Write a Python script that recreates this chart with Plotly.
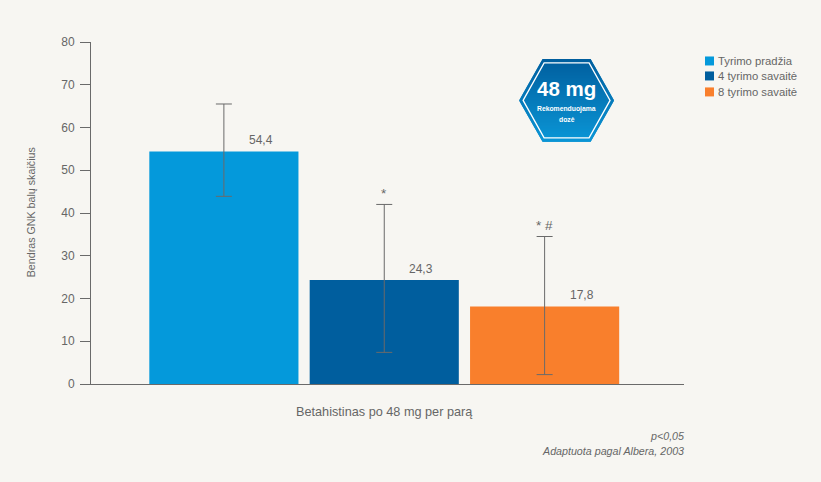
import plotly.graph_objects as go

# ---- data ----
series_names = ["Tyrimo pradžia", "4 tyrimo savaitė", "8 tyrimo savaitė"]
bar_values = [54.4, 24.3, 18.1]
value_labels = ["54,4", "24,3", "17,8"]
err_upper = [65.5, 42.0, 34.5]
err_lower = [43.9, 7.4, 2.2]
sig_labels = ["", "*", "* #"]
colors = ["#0499db", "#005e9e", "#f97f2c"]
y_ticks = [0, 10, 20, 30, 40, 50, 60, 70, 80]

W, H = 821, 482
L, R, T, B = 90.5, 684.0, 42.0, 384.5
BG = "#f7f6f2"
TXT = "#666666"
AXIS = "#6a6a6a"
FONT = "Liberation Sans, Arial, sans-serif"

fig = go.Figure()
for i, name in enumerate(series_names):
    fig.add_trace(go.Bar(
        x=[i], y=[bar_values[i]], name=name, width=0.93, showlegend=False,
        marker=dict(color=colors[i], line=dict(width=0)),
        error_y=dict(type="data", symmetric=False,
                     array=[err_upper[i] - bar_values[i]],
                     arrayminus=[bar_values[i] - err_lower[i]],
                     color=AXIS, thickness=1, width=8),
    ))

annotations = []
for i in range(3):
    annotations.append(dict(x=i + 0.23, y=bar_values[i] + 2.7, text=value_labels[i],
                            showarrow=False, xanchor="center", yanchor="middle",
                            font=dict(size=12, color=TXT, family=FONT)))
    if sig_labels[i]:
        annotations.append(dict(x=i, y=err_upper[i] + 2.5, text=sig_labels[i],
                                showarrow=False, xanchor="center", yanchor="middle",
                                font=dict(size=13.5, color=TXT, family=FONT)))


def px(x):
    return (x - L) / (R - L)


def py(y):
    return (B - y) / (B - T)


def paper_text(x, y, text, xanchor="center", **kw):
    font = kw.pop("font")
    annotations.append(dict(xref="paper", yref="paper", x=px(x), y=py(y), text=text,
                            showarrow=False, xanchor=xanchor, yanchor="middle",
                            font=font, **kw))


paper_text(30, 213, "Bendras GNK balų skaičius", textangle=-90,
           font=dict(size=10.7, color=TXT, family=FONT))
paper_text(384.5, 413, "Betahistinas po 48 mg per parą",
           font=dict(size=12.7, color=TXT, family=FONT))
paper_text(684, 437, "<i>p&lt;0,05</i>", xanchor="right", xshift=2,
           font=dict(size=10.7, color=TXT, family=FONT))
paper_text(684, 452, "<i>Adaptuota pagal Albera, 2003</i>", xanchor="right", xshift=2,
           font=dict(size=10.7, color=TXT, family=FONT))

shapes = []

# ---- legend: small swatches set tight against their labels ----
legend_rows = [61, 76, 92]
for name, col, ly in zip(series_names, colors, legend_rows):
    shapes.append(dict(type="rect", xref="paper", yref="paper",
                       x0=px(705), x1=px(714), y0=py(ly - 4.5), y1=py(ly + 4.5),
                       fillcolor=col, line=dict(width=0)))
    paper_text(716.5, ly, name, xanchor="left", font=dict(size=11.3, color=TXT, family=FONT))

# ---- dosage badge (decoration, in pixel coordinates) ----
CX, CY = 566.5, 100.5


def hex_path(half_w, half_top, half_h):
    pts = [(CX - half_w, CY), (CX - half_top, CY - half_h), (CX + half_top, CY - half_h),
           (CX + half_w, CY), (CX + half_top, CY + half_h), (CX - half_top, CY + half_h)]
    return "M" + " L".join(f"{px(a):.5f},{py(b):.5f}" for a, b in pts) + " Z"


half_w, half_top, half_h = 47.5, 24.0, 41.5
shapes.append(dict(type="path", xref="paper", yref="paper",
                   path=hex_path(half_w, half_top, half_h),
                   fillcolor="#0a86c9", line=dict(width=0)))
c_top, c_bot = (0, 94, 158), (11, 150, 214)
n = 83
for k in range(n):
    y0 = -half_h + 2 * half_h * k / n
    y1 = min(half_h, -half_h + 2 * half_h * (k + 1) / n + 0.4)
    wid = lambda yy: half_w - (half_w - half_top) * min(abs(yy), half_h) / half_h
    t = k / (n - 1)
    col = tuple(round(a + (b - a) * t) for a, b in zip(c_top, c_bot))
    pts = [(CX - wid(y0), CY + y0), (CX + wid(y0), CY + y0),
           (CX + wid(y1), CY + y1), (CX - wid(y1), CY + y1)]
    shapes.append(dict(type="path", xref="paper", yref="paper",
                       path="M" + " L".join(f"{px(a):.5f},{py(b):.5f}" for a, b in pts) + " Z",
                       fillcolor=f"rgb{col}", line=dict(width=0)))
shapes.append(dict(type="path", xref="paper", yref="paper", path=hex_path(43.5, 22.5, 37.5),
                   fillcolor="rgba(0,0,0,0)", line=dict(color="#ffffff", width=1.3)))

paper_text(CX, 88.5, "<b>48 mg</b>", font=dict(size=20.5, color="#ffffff", family=FONT))
paper_text(CX, 109, "<b>Rekomenduojama</b>", font=dict(size=6.8, color="#ffffff", family=FONT))
paper_text(CX, 120, "<b>dozė</b>", font=dict(size=6.8, color="#ffffff", family=FONT))

fig.update_layout(
    width=W, height=H,
    margin=dict(l=L, r=W - R, t=T, b=H - B, pad=0),
    paper_bgcolor=BG, plot_bgcolor=BG,
    font=dict(family=FONT, size=12, color=TXT),
    showlegend=False,
    xaxis=dict(range=[(L - 223.5) / 160.5, (R - 223.5) / 160.5], showticklabels=False,
               ticks="", showgrid=False, zeroline=False, showline=True,
               linecolor=AXIS, linewidth=1),
    yaxis=dict(range=[0, 80], tickmode="array", tickvals=y_ticks, ticks="outside",
               ticklen=10, tickwidth=1, tickcolor=AXIS, showgrid=False, zeroline=False,
               showline=True, linecolor=AXIS, linewidth=1, ticklabelstandoff=3,
               tickfont=dict(size=12, color=TXT, family=FONT)),
    annotations=annotations,
    shapes=shapes,
)
fig.write_html("out.html", config={"displayModeBar": False},
               post_script="document.body.style.margin='0';document.body.style.background='%s';" % BG)
